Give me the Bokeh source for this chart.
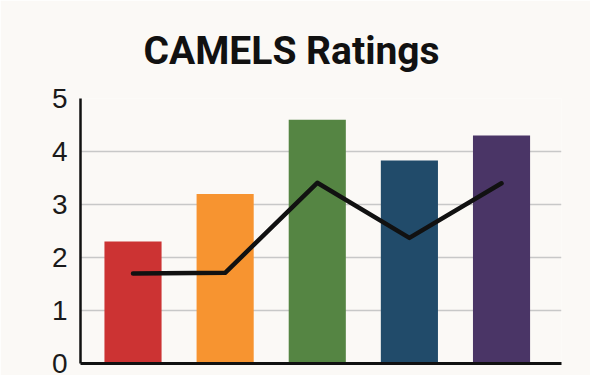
from bokeh.plotting import figure
from bokeh.models import Range1d, FixedTicker, ColumnDataSource
from bokeh.embed import file_html
from bokeh.resources import INLINE

# Data
categories = ["Capital", "Asset Quality", "Management", "Earnings", "Liquidity"]
bar_values = [2.3, 3.2, 4.6, 3.83, 4.3]
line_values = [1.7, 1.71, 3.41, 2.37, 3.4]
colors = ["#CC3333", "#F79430", "#558543", "#214B6A", "#4A3566"]
y_ticks = [0, 1, 2, 3, 4, 5]

positions = list(range(1, len(categories) + 1))
src = ColumnDataSource(dict(x=positions, top=bar_values, line=line_values,
                            color=colors, name=categories))

BG = "#FBF9F6"
p = figure(width=590, height=375, output_backend="svg", toolbar_location=None,
           x_range=Range1d(0.43, 5.651), y_range=Range1d(0, 5),
           min_border_left=80, min_border_right=29, min_border_top=98,
           min_border_bottom=12, title="CAMELS Ratings")
p.background_fill_color = BG
p.border_fill_color = BG
p.outline_line_color = None

p.title.text_font = "Roboto"
p.title.text_font_style = "bold"
p.title.text_font_size = "39px"
p.title.text_color = "#111111"
p.title.align = "left"
p.title.offset = 63
p.title.standoff = 50

p.vbar(x="x", top="top", width=0.62, bottom=0, fill_color="color",
       line_color=None, source=src)
p.line(x="x", y="line", line_color="#111111", line_width=4.5,
       line_cap="round", line_join="round", source=src)

p.xgrid.grid_line_color = None
p.ygrid.grid_line_color = "#C8C8C8"
p.ygrid.grid_line_width = 1.5
p.ygrid.ticker = FixedTicker(ticks=y_ticks)

p.yaxis.ticker = FixedTicker(ticks=y_ticks)
p.yaxis.axis_line_color = "#111111"
p.yaxis.axis_line_width = 2.5
p.yaxis.major_tick_line_color = None
p.yaxis.major_tick_out = 0
p.yaxis.major_tick_in = 0
p.yaxis.minor_tick_line_color = None
p.yaxis.major_label_text_font = "Liberation Sans"
p.yaxis.major_label_text_font_size = "28px"
p.yaxis.major_label_text_color = "#1a1a1a"
p.yaxis.major_label_standoff = 13

p.xaxis.ticker = FixedTicker(ticks=[])
p.xaxis.axis_line_color = "#111111"
p.xaxis.axis_line_width = 3
p.xaxis.major_tick_line_color = None
p.xaxis.major_tick_out = 0
p.xaxis.major_tick_in = 0
p.xaxis.minor_tick_line_color = None
p.xaxis.major_label_text_font_size = "0px"
p.xaxis.major_label_standoff = 0

open("out.html", "w").write(file_html(p, INLINE))
